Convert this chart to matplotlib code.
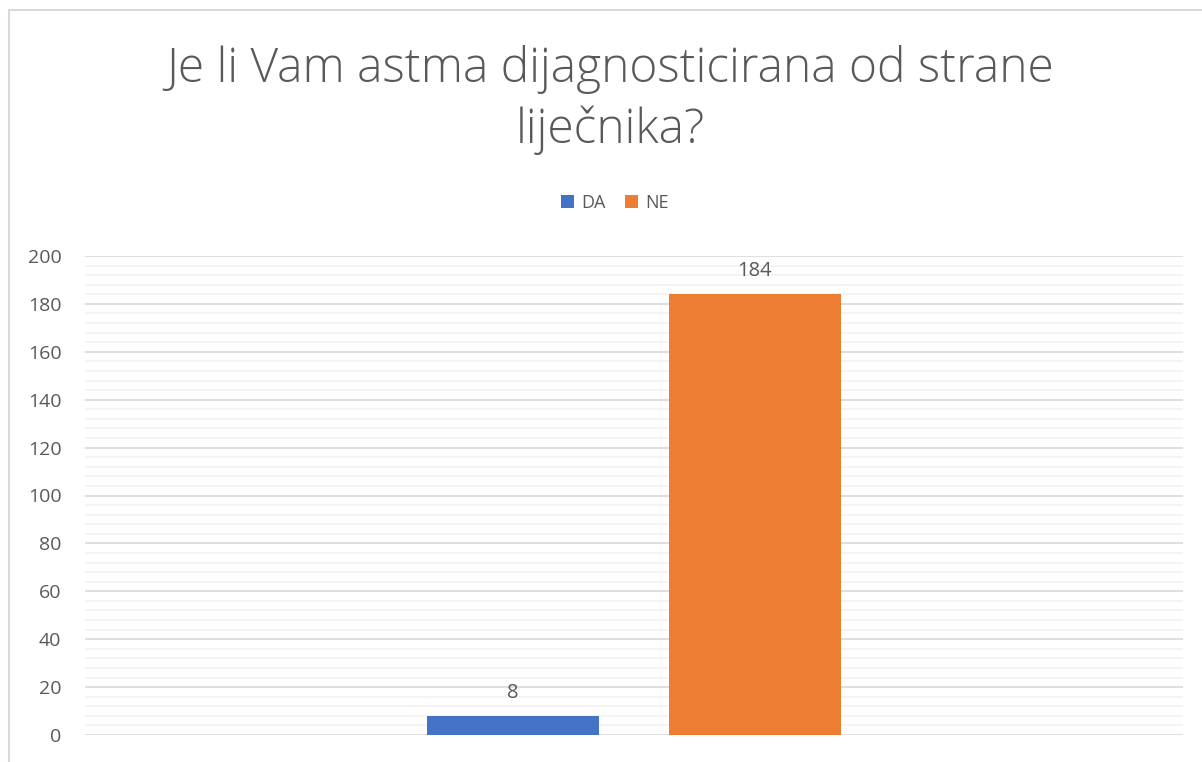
import matplotlib.pyplot as plt
import matplotlib.patches as mpatches
from matplotlib.ticker import MultipleLocator

plt.rcParams['font.family'] = ['Open Sans', 'DejaVu Sans']

title = "Je li Vam astma dijagnosticirana od strane\nliječnika?"
labels = ["DA", "NE"]
values = [8, 184]
colors = ["#4472C4", "#ED7D31"]
y_ticks = [0, 20, 40, 60, 80, 100, 120, 140, 160, 180, 200]

text_col = "#595959"

fig = plt.figure(figsize=(12.02, 7.62), dpi=100)
fig.patch.set_facecolor("white")

# chart border (left/top visible only, image is cropped)
fig.add_artist(mpatches.Rectangle((9 / 1202, -0.1), 1.2, 1 - 10 / 762 + 0.1,
                                  transform=fig.transFigure, fill=False,
                                  edgecolor="#D9D9D9", linewidth=1.5))

ax = fig.add_axes([85 / 1202, 1 - 735 / 762, 1098 / 1202, (735 - 256) / 762])

# bars side by side in one category
offsets = [-0.11, 0.11]
width = 0.157
for lab, val, col, off in zip(labels, values, colors, offsets):
    ax.bar(0.5 + off, val, width=width, color=col, label=lab, zorder=3)
    ax.text(0.5 + off, val + 5.5, str(val), ha="center", va="bottom",
            fontsize=14.5, color=text_col)

ax.set_xlim(0, 1)
ax.set_ylim(0, 200)
ax.set_yticks(y_ticks)
ax.yaxis.set_minor_locator(MultipleLocator(4))
ax.set_xticks([])
ax.grid(axis="y", which="major", color="#D9D9D9", linewidth=1.2, zorder=0)
ax.grid(axis="y", which="minor", color="#F2F2F2", linewidth=1.2, zorder=0)
for s in ax.spines.values():
    s.set_visible(False)
ax.tick_params(axis="y", which="both", length=0, labelsize=14,
               labelcolor=text_col, pad=17)

fig.text(0.5 + 9 / 1202, 1 - 100 / 762, title, ha="center", va="center",
         fontsize=34.5, color=text_col, fontweight="light", linespacing=1.3)

leg = fig.legend(loc="center", bbox_to_anchor=(0.5 + 14 / 1202, 1 - 203 / 762),
                 ncol=2, frameon=False, fontsize=13, handlelength=0.7,
                 handleheight=0.7, handletextpad=0.4, columnspacing=1.1)
for t in leg.get_texts():
    t.set_color(text_col)

fig.savefig("out.png", dpi=100)
